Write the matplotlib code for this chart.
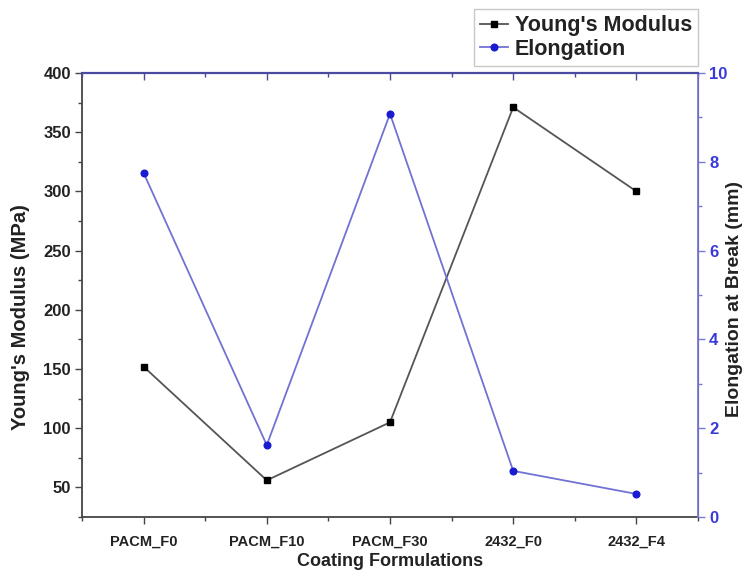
import matplotlib.pyplot as plt
import numpy as np
from matplotlib.ticker import MultipleLocator

plt.rcParams['font.family'] = ['Liberation Sans', 'DejaVu Sans']
plt.rcParams['font.weight'] = 'bold'

# coating formulations and measured properties
formulations = ['PACM_F0', 'PACM_F10', 'PACM_F30', '2432_F0', '2432_F4']
youngs_modulus = [152, 56, 105, 371, 300]      # MPa
elongation = [7.75, 1.62, 9.08, 1.04, 0.52]   # mm

x = np.arange(len(formulations))

fig = plt.figure(figsize=(7.5, 5.79), dpi=100)
ax = fig.add_axes([0.1093, 0.107, 0.8214, 0.767])
ax2 = ax.twinx()

l1, = ax.plot(x, youngs_modulus, color='#555555', lw=1.3, marker='s',
              ms=4.5, mfc='black', mec='black', label="Young's Modulus")
l2, = ax2.plot(x, elongation, color='#7272d4', lw=1.3, marker='o',
               ms=4.8, mfc='#1a1ad0', mec='#1a1ad0', label='Elongation')

ax.set_xlim(-0.5, 4.5)
ax.set_ylim(25, 400)
ax2.set_ylim(0, 10)

ax.set_xticks(x)
ax.set_xticklabels(formulations, fontsize=10.5, fontweight='bold', color='#222222')
ax.xaxis.set_minor_locator(MultipleLocator(0.5))
ax.yaxis.set_major_locator(MultipleLocator(50))
ax.yaxis.set_minor_locator(MultipleLocator(25))
ax2.yaxis.set_major_locator(MultipleLocator(2))
ax2.yaxis.set_minor_locator(MultipleLocator(1))

# left / bottom ticks point outwards
ax.tick_params(axis='y', which='major', length=5, width=1, color='#444444',
               labelsize=12, labelcolor='#222222', pad=3)
ax.tick_params(axis='y', which='minor', length=3, width=1, color='#444444')
ax.tick_params(axis='x', which='major', length=5, width=1, color='#444444',
               pad=8, top=False)
ax.tick_params(axis='x', which='minor', length=3, width=1, color='#444444',
               top=False)

# top ticks hang into the plot
ax2.xaxis.set_visible(True)
ax2.tick_params(axis='x', which='both', direction='in', top=True, bottom=False,
                labeltop=False, labelbottom=False, color='#4a4aa0', width=1)
ax2.tick_params(axis='x', which='major', length=5)
ax2.tick_params(axis='x', which='minor', length=3)

ax2.tick_params(axis='y', which='major', length=5, width=1, color='#7a7ad8',
                labelsize=12, labelcolor='#3a3ad8', pad=3)
ax2.tick_params(axis='y', which='minor', length=3, width=1, color='#7a7ad8')
for lab in ax.get_yticklabels() + ax2.get_yticklabels():
    lab.set_fontweight('bold')

for s in ['left', 'bottom']:
    ax.spines[s].set_color('#444444')
    ax.spines[s].set_linewidth(1.3)
ax2.spines['right'].set_color('#7a7ad8')
ax2.spines['right'].set_linewidth(1.3)
ax2.spines['top'].set_color('#4a4aa0')
ax2.spines['top'].set_linewidth(1.6)
ax.spines['top'].set_visible(False)
ax2.spines['left'].set_visible(False)
ax2.spines['bottom'].set_visible(False)

ax.set_xlabel('Coating Formulations', fontsize=13, fontweight='bold',
              color='#222222', labelpad=3)
ax.set_ylabel("Young's Modulus (MPa)", fontsize=14.5, fontweight='bold',
              color='#222222', va='center')
ax.yaxis.set_label_coords(-0.1, 0.45)
ax2.set_ylabel('Elongation at Break (mm)', fontsize=14, fontweight='bold',
               color='#222222', rotation=90, va='center')
ax2.yaxis.set_label_coords(1.06, 0.49)

leg = fig.legend(handles=[l1, l2], loc='upper right',
                 bbox_to_anchor=(0.931, 0.985), fontsize=15.5,
                 frameon=True, fancybox=False, handlelength=1.3,
                 handletextpad=0.3, borderpad=0.3, labelspacing=0.12,
                 borderaxespad=0)
leg.get_frame().set_edgecolor('#bbbbbb')
leg.get_frame().set_linewidth(1.0)
for t in leg.get_texts():
    t.set_fontweight('bold')
    t.set_color('#222222')

fig.savefig('out.png', dpi=100)
